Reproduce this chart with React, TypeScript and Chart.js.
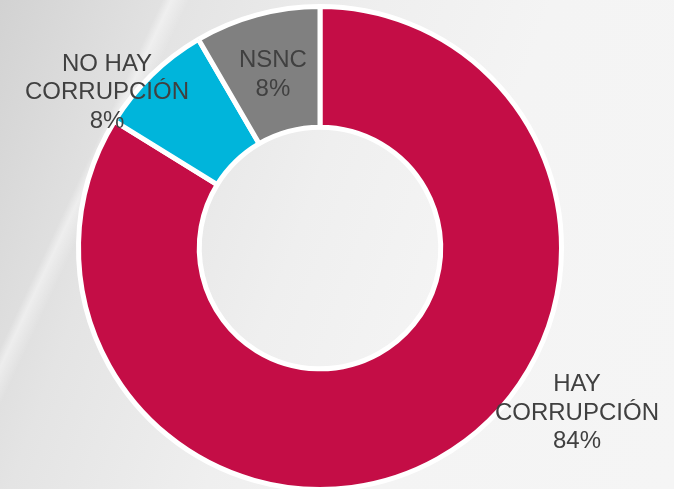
import React, { useEffect, useRef } from "react";
import { Chart, registerables } from "chart.js";

Chart.register(...registerables);

const categories = ["HAY CORRUPCIÓN", "NO HAY CORRUPCIÓN", "NSNC"];
const values = [83.8, 7.8, 8.4];
const labelLines = [["HAY", "CORRUPCIÓN", "84%"], ["NO HAY", "CORRUPCIÓN", "8%"], ["NSNC", "8%"]];
const colors = ["#C40D46", "#00B5DB", "#808080"];
// label anchor (first-line baseline) relative to centre, in units of outer radius
const labelAnchors = [[1.064, 0.594], [-0.882, -0.733], [-0.195, -0.749]];

const labelPlugin = {
  id: "sliceLabels",
  afterDatasetsDraw(chart: any) {
    const meta = chart.getDatasetMeta(0);
    const arc0 = meta.data[0];
    if (!arc0) return;
    const { x, y, outerRadius } = arc0.getProps(["x", "y", "outerRadius"], true);
    const ctx = chart.ctx;
    ctx.save();
    ctx.font = '24px "Liberation Sans", Arial, sans-serif';
    ctx.fillStyle = "#404040";
    ctx.textAlign = "center";
    ctx.textBaseline = "alphabetic";
    const lh = 28.5;
    labelLines.forEach((lines, i) => {
      const [ax, ay] = labelAnchors[i];
      const cx = x + ax * outerRadius;
      const cy = y + ay * outerRadius;
      lines.forEach((t, j) => ctx.fillText(t, cx, cy + j * lh));
    });
    ctx.restore();
  },
};

export default function App() {
  const ref = useRef<HTMLCanvasElement>(null);
  useEffect(() => {
    if (!ref.current) return;
    const chart = new Chart(ref.current, {
      type: "doughnut",
      data: {
        labels: categories,
        datasets: [
          {
            data: values,
            backgroundColor: colors,
            borderColor: "#ffffff",
            borderWidth: 5,
            hoverBorderWidth: 5,
          },
        ],
      },
      options: {
        animation: false,
        responsive: false,
        maintainAspectRatio: false,
        cutout: "50%",
        layout: { padding: { left: 76, top: 4, right: 110, bottom: 8 } },
        plugins: {
          legend: { display: false },
          tooltip: { enabled: false },
        },
        events: [],
      },
      plugins: [labelPlugin],
    });
    return () => chart.destroy();
  }, []);

  return (
    <div
      style={{
        position: "absolute",
        left: 0,
        top: 0,
        width: 674,
        height: 489,
        overflow: "hidden",
        background:
          "linear-gradient(115deg, rgba(255,255,255,0) 0%, rgba(255,255,255,0) 18%, rgba(255,255,255,0.45) 19%, rgba(255,255,255,0) 21%, rgba(255,255,255,0) 100%), linear-gradient(110deg, #d2d2d2 0%, #e4e4e4 22%, #efefef 45%, #f4f4f4 65%, #f5f5f5 100%)",
      }}
    >
      <canvas ref={ref} width={674} height={500} style={{ display: "block" }} />
    </div>
  );
}
